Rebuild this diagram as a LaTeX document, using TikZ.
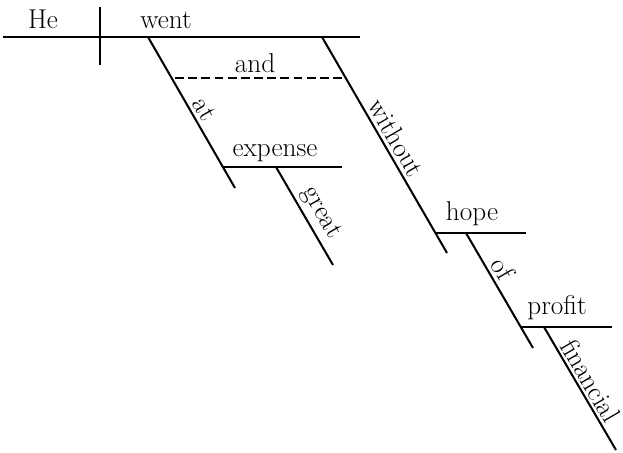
\documentclass[tikz,border=0pt]{standalone}
\usepackage{tikz}
\usetikzlibrary{calc}
\tikzset{
	word/.style={font=\fontsize{15.5}{18}\selectfont, inner sep=2pt},
	rule/.style={line width=1.15pt}
}
\begin{document}
\begin{tikzpicture}[x=0.2mm, y=-0.2mm]
		\useasboundingbox (0,0) rectangle (623,453);
		\coordinate (L) at (3,37);
		\coordinate (R) at (360,37);
		\coordinate (Vt) at (100,7);
		\coordinate (Vb) at (100,65);
		\coordinate (A) at (148,37);
		\coordinate (A1) at (235,188);
		\coordinate (D) at (175,78);
		\coordinate (D1) at (342,78);
		\coordinate (E) at (223,167);
		\coordinate (E1) at (342,167);
		\coordinate (G) at (276,167);
		\coordinate (G1) at (333,265);
		\coordinate (W) at (322,37);
		\coordinate (W1) at (447,253);
		\coordinate (H) at (435,233);
		\coordinate (H1) at (526,233);
		\coordinate (O) at (466,233);
		\coordinate (O1) at (533,348);
		\coordinate (P) at (521,327);
		\coordinate (P1) at (612,327);
		\coordinate (F) at (544,327);
		\coordinate (F1) at (616,450);
		\draw[rule] (L)--(R);
		\draw[rule] (Vt)--(Vb);
		\draw[rule] (A)--(A1) node[word, sloped, above, pos=0.52] (at) {at};
		\draw[rule, dash pattern=on 5pt off 2.5pt] (D)--(D1);
		\draw[rule] (E)--(E1);
		\draw[rule] (G)--(G1) node[word, sloped, above, pos=0.55] (great) {great};
		\draw[rule] (W)--(W1) node[word, sloped, above, pos=0.5] (without) {without};
		\draw[rule] (H)--(H1);
		\draw[rule] (O)--(O1) node[word, sloped, above, pos=0.37] (of) {of};
		\draw[rule] (P)--(P1);
		\draw[rule] (F)--(F1) node[word, sloped, above, pos=0.49, inner sep=1.5pt] (financial) {financial};
		\node[word, anchor=base] (he) at (43,29) {He};
		\node[word, anchor=base] (went) at (166,29) {went};
		\node[word, anchor=base] (and) at (255,73) {and};
		\node[word, anchor=base] (expense) at (275,157) {expense};
		\node[word, anchor=base] (hope) at (472,221) {hope};
		\node[word, anchor=base] (profit) at (557,315) {profit};
	\end{tikzpicture}
\end{document}
